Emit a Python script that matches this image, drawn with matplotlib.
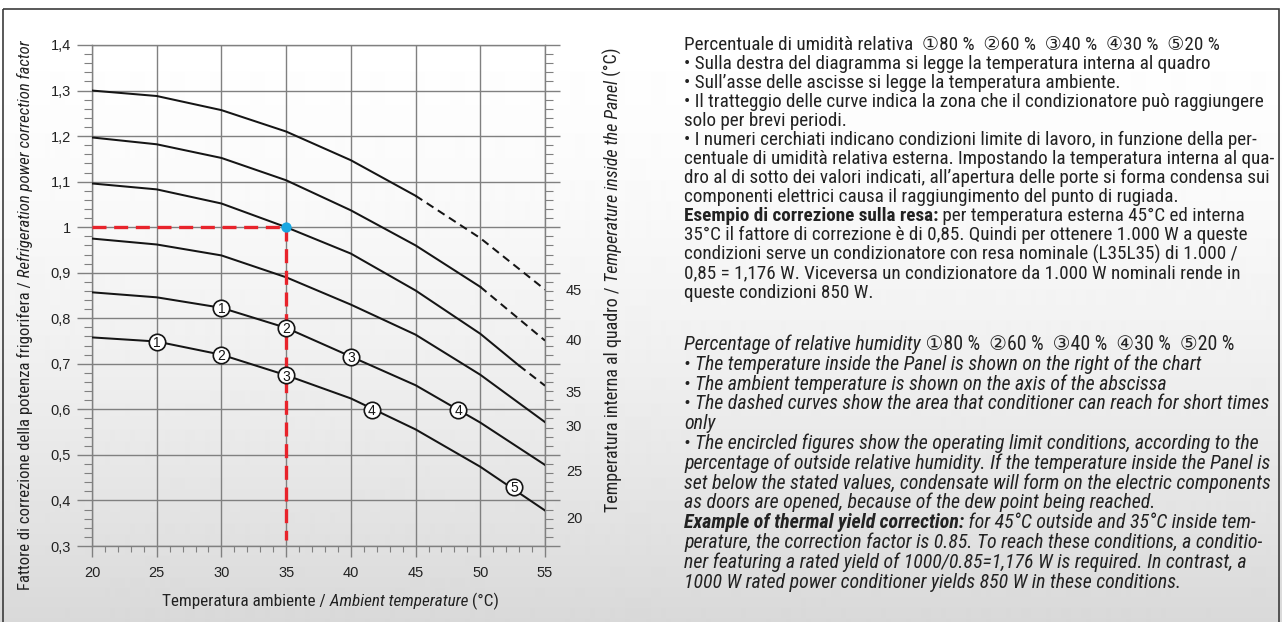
import matplotlib
matplotlib.use('Agg')
import matplotlib.pyplot as plt
import matplotlib.ticker as mticker
from matplotlib import font_manager
from matplotlib.patches import Rectangle
from matplotlib.transforms import IdentityTransform
import numpy as np

W, H = 1282, 622
ttf = font_manager.fontManager.ttflist
fonts = {f.name for f in ttf}


def pick_narrow():
    for n in ['Liberation Sans Narrow', 'Roboto Condensed', 'Noto Sans Condensed',
              'Open Sans Condensed', 'Noto Sans SemiCondensed', 'Open Sans SemiCondensed',
              'DejaVu Sans Condensed']:
        if n in fonts:
            return n, 'normal'
    for f in ttf:
        if str(f.stretch) in ('condensed', 'semi-condensed', 'extra-condensed') \
                and 'Mono' not in f.name and 'Serif' not in f.name:
            return f.name, str(f.stretch)
    return 'DejaVu Sans', 'normal'


NARROW, STRETCH = pick_narrow()
SANS = 'Liberation Sans' if 'Liberation Sans' in fonts else 'DejaVu Sans'
TXT = [NARROW, 'DejaVu Sans', 'Noto Sans CJK JP']
INK = '#222222'
GRID = '#808080'
plt.rcParams['font.family'] = [SANS, 'DejaVu Sans']

# ambient temperature (°C) -> correction factor, one curve per panel temperature
amb_45 = [20, 25, 30, 35, 40, 45, 50, 55]
fac_45 = [1.300, 1.288, 1.257, 1.210, 1.147, 1.069, 0.976, 0.863]
amb_40 = [20, 25, 30, 35, 40, 45, 50, 55]
fac_40 = [1.197, 1.182, 1.152, 1.103, 1.037, 0.960, 0.869, 0.751]
amb_35 = [20, 25, 30, 35, 40, 45, 50, 53, 55]
fac_35 = [1.096, 1.083, 1.052, 1.000, 0.942, 0.861, 0.766, 0.696, 0.652]
amb_30 = [20, 25, 30, 35, 40, 45, 50, 55]
fac_30 = [0.975, 0.962, 0.938, 0.890, 0.830, 0.764, 0.676, 0.572]
amb_25 = [20, 25, 30, 35, 40, 45, 50, 55]
fac_25 = [0.857, 0.846, 0.823, 0.779, 0.716, 0.653, 0.571, 0.478]
amb_20 = [20, 25, 30, 35, 40, 45, 50, 55]
fac_20 = [0.758, 0.749, 0.720, 0.675, 0.624, 0.556, 0.474, 0.378]
dashed_from = {45: 45, 40: 50, 35: 53}

# circled humidity limits on the two lower curves
mark_25_x = [30, 35, 40, 48.3]
mark_25_y = [0.823, 0.779, 0.716, 0.599]
mark_25_n = ['1', '2', '3', '4']
mark_20_x = [25, 30, 35, 41.6, 52.6]
mark_20_y = [0.749, 0.720, 0.675, 0.599, 0.430]
mark_20_n = ['1', '2', '3', '4', '5']

panel_labels = ['45', '40', '35', '30', '25', '20']
panel_label_y = [0.859, 0.751, 0.637, 0.561, 0.462, 0.359]

y_ticks = [0.3, 0.4, 0.5, 0.6, 0.7, 0.8, 0.9, 1.0, 1.1, 1.2, 1.3, 1.4]
y_tick_labels = ['0,3', '0,4', '0,5', '0,6', '0,7', '0,8', '0,9', '1',
                 '1,1', '1,2', '1,3', '1,4']
x_ticks = [20, 25, 30, 35, 40, 45, 50, 55]

example_amb, example_fac, example_bottom = 35, 1.0, 0.313

text_it = [
    [('Percentuale di umidità relativa  ①80 %  ②60 %  ③40 %  ④30 %  ⑤20 %', 'normal', 'normal')],
    [('• Sulla destra del diagramma si legge la temperatura interna al quadro', 'normal', 'normal')],
    [('• Sull’asse delle ascisse si legge la temperatura ambiente.', 'normal', 'normal')],
    [('• Il tratteggio delle curve indica la zona che il condizionatore può raggiungere', 'normal', 'normal')],
    [('solo per brevi periodi.', 'normal', 'normal')],
    [('• I numeri cerchiati indicano condizioni limite di lavoro, in funzione della per-', 'normal', 'normal')],
    [('centuale di umidità relativa esterna. Impostando la temperatura interna al qua-', 'normal', 'normal')],
    [('dro al di sotto dei valori indicati, all’apertura delle porte si forma condensa sui', 'normal', 'normal')],
    [('componenti elettrici causa il raggiungimento del punto di rugiada.', 'normal', 'normal')],
    [('Esempio di correzione sulla resa:', 'normal', 'bold'),
     (' per temperatura esterna 45°C ed interna', 'normal', 'normal')],
    [('35°C il fattore di correzione è di 0,85. Quindi per ottenere 1.000 W a queste', 'normal', 'normal')],
    [('condizioni serve un condizionatore con resa nominale (L35L35) di 1.000 /', 'normal', 'normal')],
    [('0,85 = 1,176 W. Viceversa un condizionatore da 1.000 W nominali rende in', 'normal', 'normal')],
    [('queste condizioni 850 W.', 'normal', 'normal')],
]
text_en = [
    [('Percentage of relative humidity', 'italic', 'normal'),
     (' ①80 %  ②60 %  ③40 %  ④30 %  ⑤20 %', 'normal', 'normal')],
    [('• The temperature inside the Panel is shown on the right of the chart', 'italic', 'normal')],
    [('• The ambient temperature is shown on the axis of the abscissa', 'italic', 'normal')],
    [('• The dashed curves show the area that conditioner can reach for short times', 'italic', 'normal')],
    [('only', 'italic', 'normal')],
    [('• The encircled figures show the operating limit conditions, according to the', 'italic', 'normal')],
    [('percentage of outside relative humidity. If the temperature inside the Panel is', 'italic', 'normal')],
    [('set below the stated values, condensate will form on the electric components', 'italic', 'normal')],
    [('as doors are opened, because of the dew point being reached.', 'italic', 'normal')],
    [('Example of thermal yield correction:', 'italic', 'bold'),
     (' for 45°C outside and 35°C inside tem-', 'italic', 'normal')],
    [('perature, the correction factor is 0.85. To reach these conditions, a conditio-', 'italic', 'normal')],
    [('ner featuring a rated yield of 1000/0.85=1,176 W is required. In contrast, a', 'italic', 'normal')],
    [('1000 W rated power conditioner yields 850 W in these conditions.', 'italic', 'normal')],
]

fig = plt.figure(figsize=(W / 100, H / 100), dpi=100)

# background: white top fading to light grey, thin frame
bg = fig.add_axes([0, 0, 1, 1], zorder=-10)
rows = np.arange(H)
shade = np.where(rows < 9, 1.0, 1 - 0.15 * np.clip((rows - 9) / (H - 9), 0, 1) ** 1.6)
bg.imshow(shade[:, None], cmap='gray', vmin=0, vmax=1, aspect='auto',
          extent=(0, W, H, 0), interpolation='bilinear')
bg.add_patch(Rectangle((3, 9), W - 6, H, fill=False, ec='#3c3c3c', lw=1.2))
bg.set_xlim(0, W)
bg.set_ylim(H, 0)
bg.axis('off')

ax = fig.add_axes([92 / W, 1 - 546 / H, 453 / W, 501 / H])
ax.set_facecolor('none')
ax.set_xlim(20, 55)
ax.set_ylim(0.3, 1.4)
ax.set_yticks(y_ticks)
ax.set_yticklabels(y_tick_labels)
ax.yaxis.set_minor_locator(mticker.MultipleLocator(0.02))
ax.set_xticks(x_ticks)
ax.set_xticklabels([str(v) for v in x_ticks])
ax.xaxis.set_minor_locator(mticker.MultipleLocator(1))
ax.tick_params(axis='y', which='both', left=True, right=True, direction='out',
               color=GRID, labelsize=10.5, labelcolor=INK)
ax.tick_params(axis='y', which='major', length=10.8, width=1.0, pad=4.3)
ax.tick_params(axis='y', which='minor', length=5.8, width=0.8)
ax.tick_params(axis='x', which='both', bottom=True, top=False, direction='out',
               color=GRID, labelsize=10.5, labelcolor=INK)
ax.tick_params(axis='x', which='major', length=7.9, width=1.0, pad=6.5)
ax.tick_params(axis='x', which='minor', length=4.3, width=0.8)
ax.grid(which='major', color=GRID, lw=1.0)
for s in ax.spines.values():
    s.set_color(GRID)
    s.set_linewidth(1.0)

curves = [(45, amb_45, fac_45), (40, amb_40, fac_40), (35, amb_35, fac_35),
          (30, amb_30, fac_30), (25, amb_25, fac_25), (20, amb_20, fac_20)]
for t, xs, ys in curves:
    xs, ys = np.array(xs), np.array(ys)
    cut = dashed_from.get(t, xs.max())
    keep = xs <= cut
    ax.plot(xs[keep], ys[keep], color='#151515', lw=1.45, zorder=3)
    if t in dashed_from:
        keep = xs >= cut
        ax.plot(xs[keep], ys[keep], color='#151515', lw=1.45, dashes=(4, 2.6), zorder=3)

# example: 35 °C ambient / 35 °C inside -> factor 1
ax.plot([20, example_amb], [example_fac, example_fac], color='#e8232b', lw=2.4,
        dashes=(4.2, 2.3), zorder=4)
ax.plot([example_amb, example_amb], [example_fac, example_bottom], color='#e8232b',
        lw=2.4, dashes=(4.2, 2.3), zorder=4)
ax.scatter([example_amb], [example_fac], s=55, color='#19a8e2', zorder=7, linewidths=0)

for mx, my, mn in [(mark_25_x, mark_25_y, mark_25_n), (mark_20_x, mark_20_y, mark_20_n)]:
    ax.scatter(mx, my, s=140, facecolor='white', edgecolor='#151515', linewidths=1.2, zorder=5)
    for x, y, n in zip(mx, my, mn):
        ax.text(x, y, n, ha='center', va='center_baseline', fontsize=10, color='#151515', zorder=6)

for lab, y in zip(panel_labels, panel_label_y):
    ax.text(1.046, y, lab, transform=ax.get_yaxis_transform(), ha='left', va='center',
            fontsize=10.5, color=INK)

renderer = fig.canvas.get_renderer()


def seg_texts(x, y, segs, size, rot=0, color=INK):
    out = []
    for s, style, weight in segs:
        t = fig.text(x, y, s, transform=IdentityTransform(), fontsize=size, family=TXT,
                     fontstretch=STRETCH, style=style, weight=weight, color=color,
                     ha='left', va='baseline', rotation=rot, rotation_mode='anchor')
        bb = t.get_window_extent(renderer)
        if rot == 0:
            x += bb.width
        else:
            y += bb.height
        out.append(t)
    return out


def fit(segs, target, rot=0):
    ts = seg_texts(0, 0, segs, 10, rot)
    span = sum(t.get_window_extent(renderer).width if rot == 0
               else t.get_window_extent(renderer).height for t in ts)
    for t in ts:
        t.remove()
    return 10 * target / span


# axis titles
xlab = [('Temperatura ambiente /', 'normal', 'normal'),
        (' Ambient temperature', 'italic', 'normal'), (' (°C)', 'normal', 'normal')]
seg_texts(162, H - 606, xlab, fit(xlab, 335))
ylab = [('Fattore di correzione della potenza frigorifera /', 'normal', 'normal'),
        (' Refrigeration power correction factor', 'italic', 'normal')]
seg_texts(30, H - 590, ylab, fit(ylab, 550, 90), 90)
rlab = [('Temperatura interna al quadro /', 'normal', 'normal'),
        (' Temperature inside the Panel', 'italic', 'normal'), (' (°C)', 'normal', 'normal')]
seg_texts(618, H - 512, rlab, fit(rlab, 462, 90), 90)

# explanatory text
size_it = fit(text_it[3], 577)
for i, line in enumerate(text_it):
    seg_texts(684, H - (50 + i * 19.05), line, size_it)
size_en = fit(text_en[3], 586)
for i, line in enumerate(text_en):
    seg_texts(684, H - (350 + i * 19.8), line, size_en)

fig.savefig('out.png', dpi=100)
